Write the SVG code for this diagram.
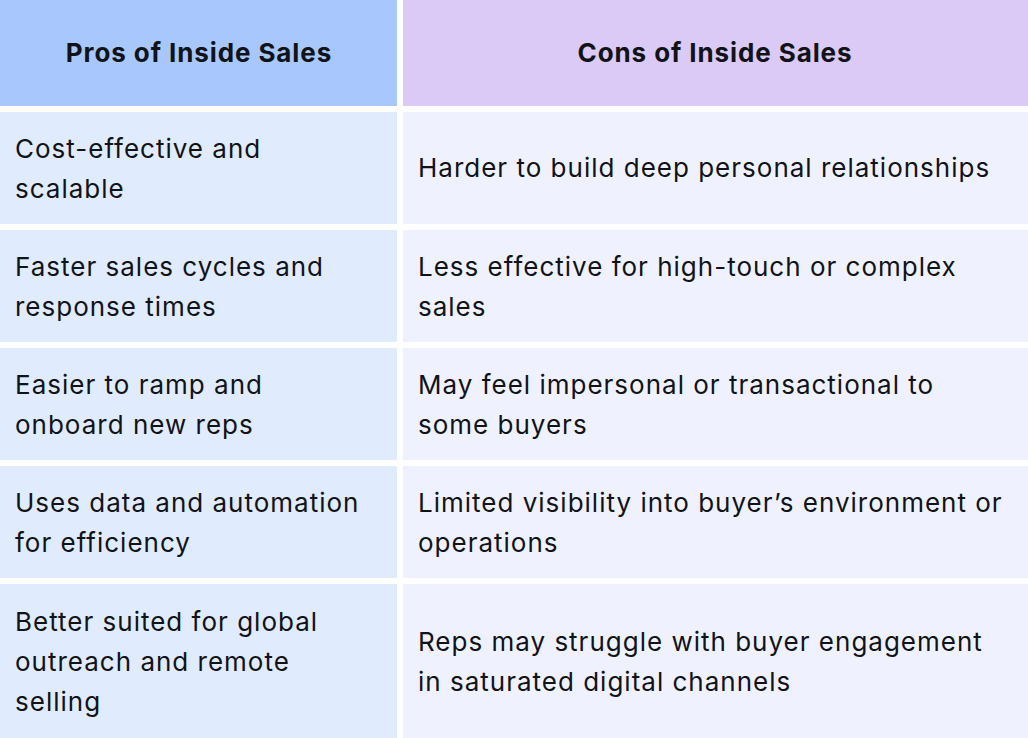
<svg xmlns="http://www.w3.org/2000/svg" width="1028" height="738" viewBox="0 0 1028 738">
<style>
.hl{fill:#A7C7FD}.hr{fill:#DACAF5}.cl{fill:#E0EBFD}.cr{fill:#EFF2FE}
.h{font-family:Inter,"Noto Sans",sans-serif;font-weight:700;font-size:26px;letter-spacing:0.9px;fill:#111318;text-anchor:middle}
.t{font-family:Inter,"Noto Sans",sans-serif;font-size:26px;letter-spacing:1px;fill:#111318}
</style>
<rect width="1028" height="738" fill="#ffffff"/>
<g id="header-pros"><rect class="hl" x="0" y="0" width="397" height="106"/><text class="h" x="199" y="62">Pros of Inside Sales</text></g>
<g id="header-cons"><rect class="hr" x="403" y="0" width="625" height="106"/><text class="h" x="715" y="62">Cons of Inside Sales</text></g>
<g id="pro-1"><rect class="cl" x="0" y="112" width="397" height="112"/><text class="t" x="15" y="158">Cost-effective and</text><text class="t" x="15" y="198">scalable</text></g>
<g id="con-1"><rect class="cr" x="403" y="112" width="625" height="112"/><text class="t" x="418" y="177">Harder to build deep personal relationships</text></g>
<g id="pro-2"><rect class="cl" x="0" y="230" width="397" height="112"/><text class="t" x="15" y="276">Faster sales cycles and</text><text class="t" x="15" y="316">response times</text></g>
<g id="con-2"><rect class="cr" x="403" y="230" width="625" height="112"/><text class="t" x="418" y="276">Less effective for high-touch or complex</text><text class="t" x="418" y="316">sales</text></g>
<g id="pro-3"><rect class="cl" x="0" y="348" width="397" height="112"/><text class="t" x="15" y="394">Easier to ramp and</text><text class="t" x="15" y="434">onboard new reps</text></g>
<g id="con-3"><rect class="cr" x="403" y="348" width="625" height="112"/><text class="t" x="418" y="394">May feel impersonal or transactional to</text><text class="t" x="418" y="434">some buyers</text></g>
<g id="pro-4"><rect class="cl" x="0" y="466" width="397" height="112"/><text class="t" x="15" y="512">Uses data and automation</text><text class="t" x="15" y="552">for efficiency</text></g>
<g id="con-4"><rect class="cr" x="403" y="466" width="625" height="112"/><text class="t" x="418" y="512">Limited visibility into buyer’s environment or</text><text class="t" x="418" y="552">operations</text></g>
<g id="pro-5"><rect class="cl" x="0" y="584" width="397" height="154"/><text class="t" x="15" y="631">Better suited for global</text><text class="t" x="15" y="671">outreach and remote</text><text class="t" x="15" y="711">selling</text></g>
<g id="con-5"><rect class="cr" x="403" y="584" width="625" height="154"/><text class="t" x="418" y="651">Reps may struggle with buyer engagement</text><text class="t" x="418" y="691">in saturated digital channels</text></g>
<g id="connectors"></g>
</svg>
